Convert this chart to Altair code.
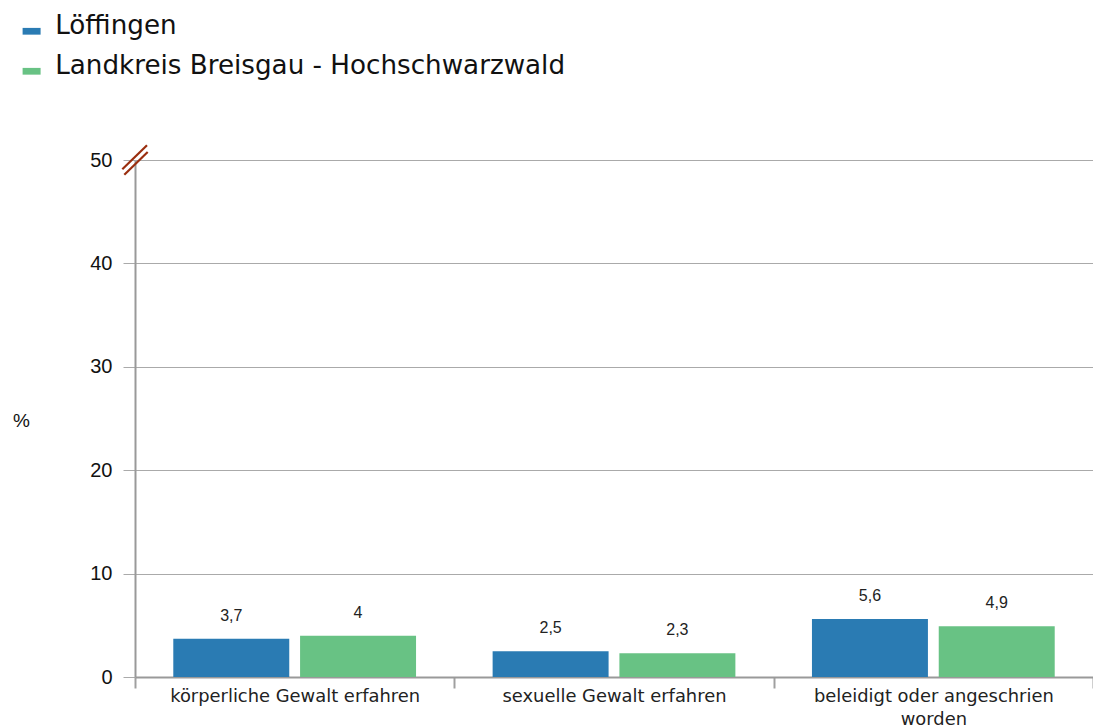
import altair as alt
import pandas as pd

categories = ["körperliche Gewalt erfahren", "sexuelle Gewalt erfahren", "beleidigt oder angeschrien worden"]
series = ["Löffingen", "Landkreis Breisgau - Hochschwarzwald"]
loeffingen = [3.7, 2.5, 5.6]
landkreis = [4.0, 2.3, 4.9]
colors = ["#2a7bb3", "#68c284"]

rows = []
for i, c in enumerate(categories):
    for s, vals in zip(series, [loeffingen, landkreis]):
        v = vals[i]
        lbl = (f"{v:.1f}".rstrip("0").rstrip(".")).replace(".", ",")
        rows.append({"Kategorie": c, "Serie": s, "Wert": v, "Label": lbl})
df = pd.DataFrame(rows)

x_enc = alt.X(
    "Kategorie:N",
    sort=categories,
    scale=alt.Scale(paddingInner=0, paddingOuter=0),
    axis=alt.Axis(
        title=None,
        labelAngle=0,
        labelFont="DejaVu Sans",
        labelFontSize=17.9,
        labelColor="#222222",
        labelPadding=-1,
        labelLineHeight=23,
        labelLimit=400,
        labelExpr="datum.value == 'beleidigt oder angeschrien worden' ? ['beleidigt oder angeschrien', 'worden'] : datum.value",
        tickBand="extent",
        tickSize=11,
        tickWidth=2,
        tickColor="#a0a0a0",
        domainColor="#999999",
        domainWidth=2,
        grid=False,
    ),
)
xoff_enc = alt.XOffset(
    "Serie:N",
    sort=series,
    scale=alt.Scale(paddingInner=0.0853, paddingOuter=0.302),
)
y_enc = alt.Y(
    "Wert:Q",
    scale=alt.Scale(domain=[0, 50], nice=False),
    axis=alt.Axis(
        title="%",
        titleAngle=0,
        titleFont="Liberation Sans",
        titleFontSize=19,
        titleFontWeight="normal",
        titleColor="#111111",
        titleX=-114,
        titleY=260,
        titleAlign="center",
        titleBaseline="middle",
        values=[0, 10, 20, 30, 40, 50],
        labelFont="Liberation Sans",
        labelFontSize=20,
        labelColor="#111111",
        labelPadding=11,
        tickSize=12,
        tickColor="#aaaaaa",
        tickWidth=1,
        domainColor="#999999",
        domainWidth=2,
        grid=True,
        gridColor="#aaaaaa",
        gridWidth=1,
    ),
)

bars = alt.Chart(df).mark_bar().encode(
    x=x_enc,
    xOffset=xoff_enc,
    y=y_enc,
    color=alt.Color(
        "Serie:N",
        sort=series,
        scale=alt.Scale(domain=series, range=colors),
        legend=alt.Legend(
            title=None,
            orient="none",
            legendX=-116.5,
            legendY=-147,
            padding=0,
            symbolType="M-1,0.2L1,0.2L1,0.95L-1,0.95Z",
            symbolSize=324,
            symbolStrokeWidth=0,
            symbolOpacity=1,
            labelFont="DejaVu Sans",
            labelFontSize=26.2,
            labelColor="#111111",
            labelOffset=10.5,
            labelLimit=800,
            rowPadding=13,
        ),
    ),
)

text = alt.Chart(df).mark_text(
    baseline="alphabetic",
    dy=-18,
    font="Liberation Sans",
    fontSize=16,
    color="#222222",
).encode(
    x=alt.X("Kategorie:N", sort=categories),
    xOffset=alt.XOffset("Serie:N", sort=series),
    y="Wert:Q",
    text="Label:N",
)

brk = pd.DataFrame({"k": [0]})
break1 = alt.Chart(brk).mark_rule(color="#9a2e0e", strokeWidth=2.2).encode(
    x=alt.value(-12.7), y=alt.value(9.3), x2=alt.value(12), y2=alt.value(-14.7)
)
break2 = alt.Chart(brk).mark_rule(color="#9a2e0e", strokeWidth=2.2).encode(
    x=alt.value(-10.7), y=alt.value(14.7), x2=alt.value(12.7), y2=alt.value(-8)
)

chart = alt.layer(bars, text, break1, break2).properties(
    width=958,
    height=517,
    padding={"left": 127, "top": 152, "right": 0, "bottom": 50},
    autosize=alt.AutoSizeParams(type="none"),
).configure_view(stroke=None)

chart.save("out.html", embed_options={"renderer": "svg", "actions": False})
